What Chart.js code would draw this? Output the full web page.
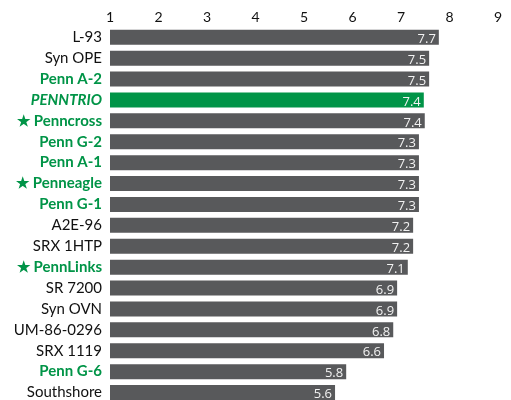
<!DOCTYPE html>
<html>
<head>
<meta charset="utf-8">
<script src="https://cdn.jsdelivr.net/npm/chart.js@4"></script>
<style>
  html, body { margin: 0; padding: 0; background: #fff; overflow: hidden; }
</style>
</head>
<body>
<canvas id="chart" width="511" height="403"></canvas>
<script>
// Cultivar ratings (bar lengths, labels as printed)
const cultivars = ['L-93', 'Syn OPE', 'Penn A-2', 'PENNTRIO', '\u2605 Penncross', 'Penn G-2', 'Penn A-1',
  '\u2605 Penneagle', 'Penn G-1', 'A2E-96', 'SRX 1HTP', '\u2605 PennLinks', 'SR 7200', 'Syn OVN',
  'UM-86-0296', 'SRX 1119', 'Penn G-6', 'Southshore'];
const ratings = [7.78, 7.58, 7.58, 7.47, 7.49, 7.37, 7.37, 7.37, 7.37, 7.25, 7.25, 7.14, 6.92, 6.92,
  6.84, 6.65, 5.87, 5.64];
const ratingLabels = ['7.7', '7.5', '7.5', '7.4', '7.4', '7.3', '7.3', '7.3', '7.3', '7.2', '7.2', '7.1',
  '6.9', '6.9', '6.8', '6.6', '5.8', '5.6'];
const pennCultivars = ['Penn A-2', 'PENNTRIO', '\u2605 Penncross', 'Penn G-2', 'Penn A-1',
  '\u2605 Penneagle', 'Penn G-1', '\u2605 PennLinks', 'Penn G-6'];
const highlight = 'PENNTRIO';
const axisTicks = [1, 2, 3, 4, 5, 6, 7, 8, 9];

const GREEN = '#009447';
const GRAY = '#58595b';
const FONT = 'Lato, "Open Sans", sans-serif';

// Draw the value inside the end of each bar
const barValueLabels = {
  id: 'barValueLabels',
  afterDatasetsDraw(chart) {
    const ctx = chart.ctx;
    const meta = chart.getDatasetMeta(0);
    ctx.save();
    ctx.font = '13px "Open Sans", sans-serif';
    ctx.fillStyle = '#f2f2f2';
    ctx.textAlign = 'right';
    ctx.textBaseline = 'middle';
    meta.data.forEach((bar, i) => {
      ctx.fillText(ratingLabels[i], bar.x - 3, bar.y + 2);
    });
    ctx.restore();
  }
};

new Chart(document.getElementById('chart'), {
  type: 'bar',
  data: {
    labels: cultivars,
    datasets: [{
      data: ratings,
      base: 1,
      backgroundColor: cultivars.map(c => c === highlight ? GREEN : GRAY),
      barPercentage: 0.72,
      categoryPercentage: 1
    }]
  },
  options: {
    indexAxis: 'y',
    responsive: false,
    animation: false,
    layout: { padding: { top: 8, right: 13, bottom: 0, left: 0 } },
    plugins: {
      legend: { display: false },
      tooltip: { enabled: false }
    },
    scales: {
      x: {
        position: 'top',
        min: 1,
        max: 9,
        border: { display: false },
        grid: { display: false, drawTicks: false },
        afterBuildTicks: scale => { scale.ticks = axisTicks.map(v => ({ value: v })); },
        ticks: {
          padding: 1,
          autoSkip: false,
          maxRotation: 0,
          color: '#111',
          font: { family: FONT, size: 14 }
        }
      },
      y: {
        border: { display: false },
        grid: { display: false, drawTicks: false },
        afterFit: scale => {
          scale.width = 110;
          scale.paddingTop = 0;
          scale.paddingBottom = 0;
        },
        ticks: {
          padding: 8,
          autoSkip: false,
          color: ctx => pennCultivars.includes(cultivars[ctx.index]) ? GREEN : '#111',
          font: ctx => {
            const name = cultivars[ctx.index];
            const penn = pennCultivars.includes(name);
            return {
              family: FONT,
              size: 15,
              weight: penn ? 'bold' : 'normal',
              style: name === highlight ? 'italic' : 'normal'
            };
          }
        }
      }
    }
  },
  plugins: [barValueLabels]
});
</script>
</body>
</html>
